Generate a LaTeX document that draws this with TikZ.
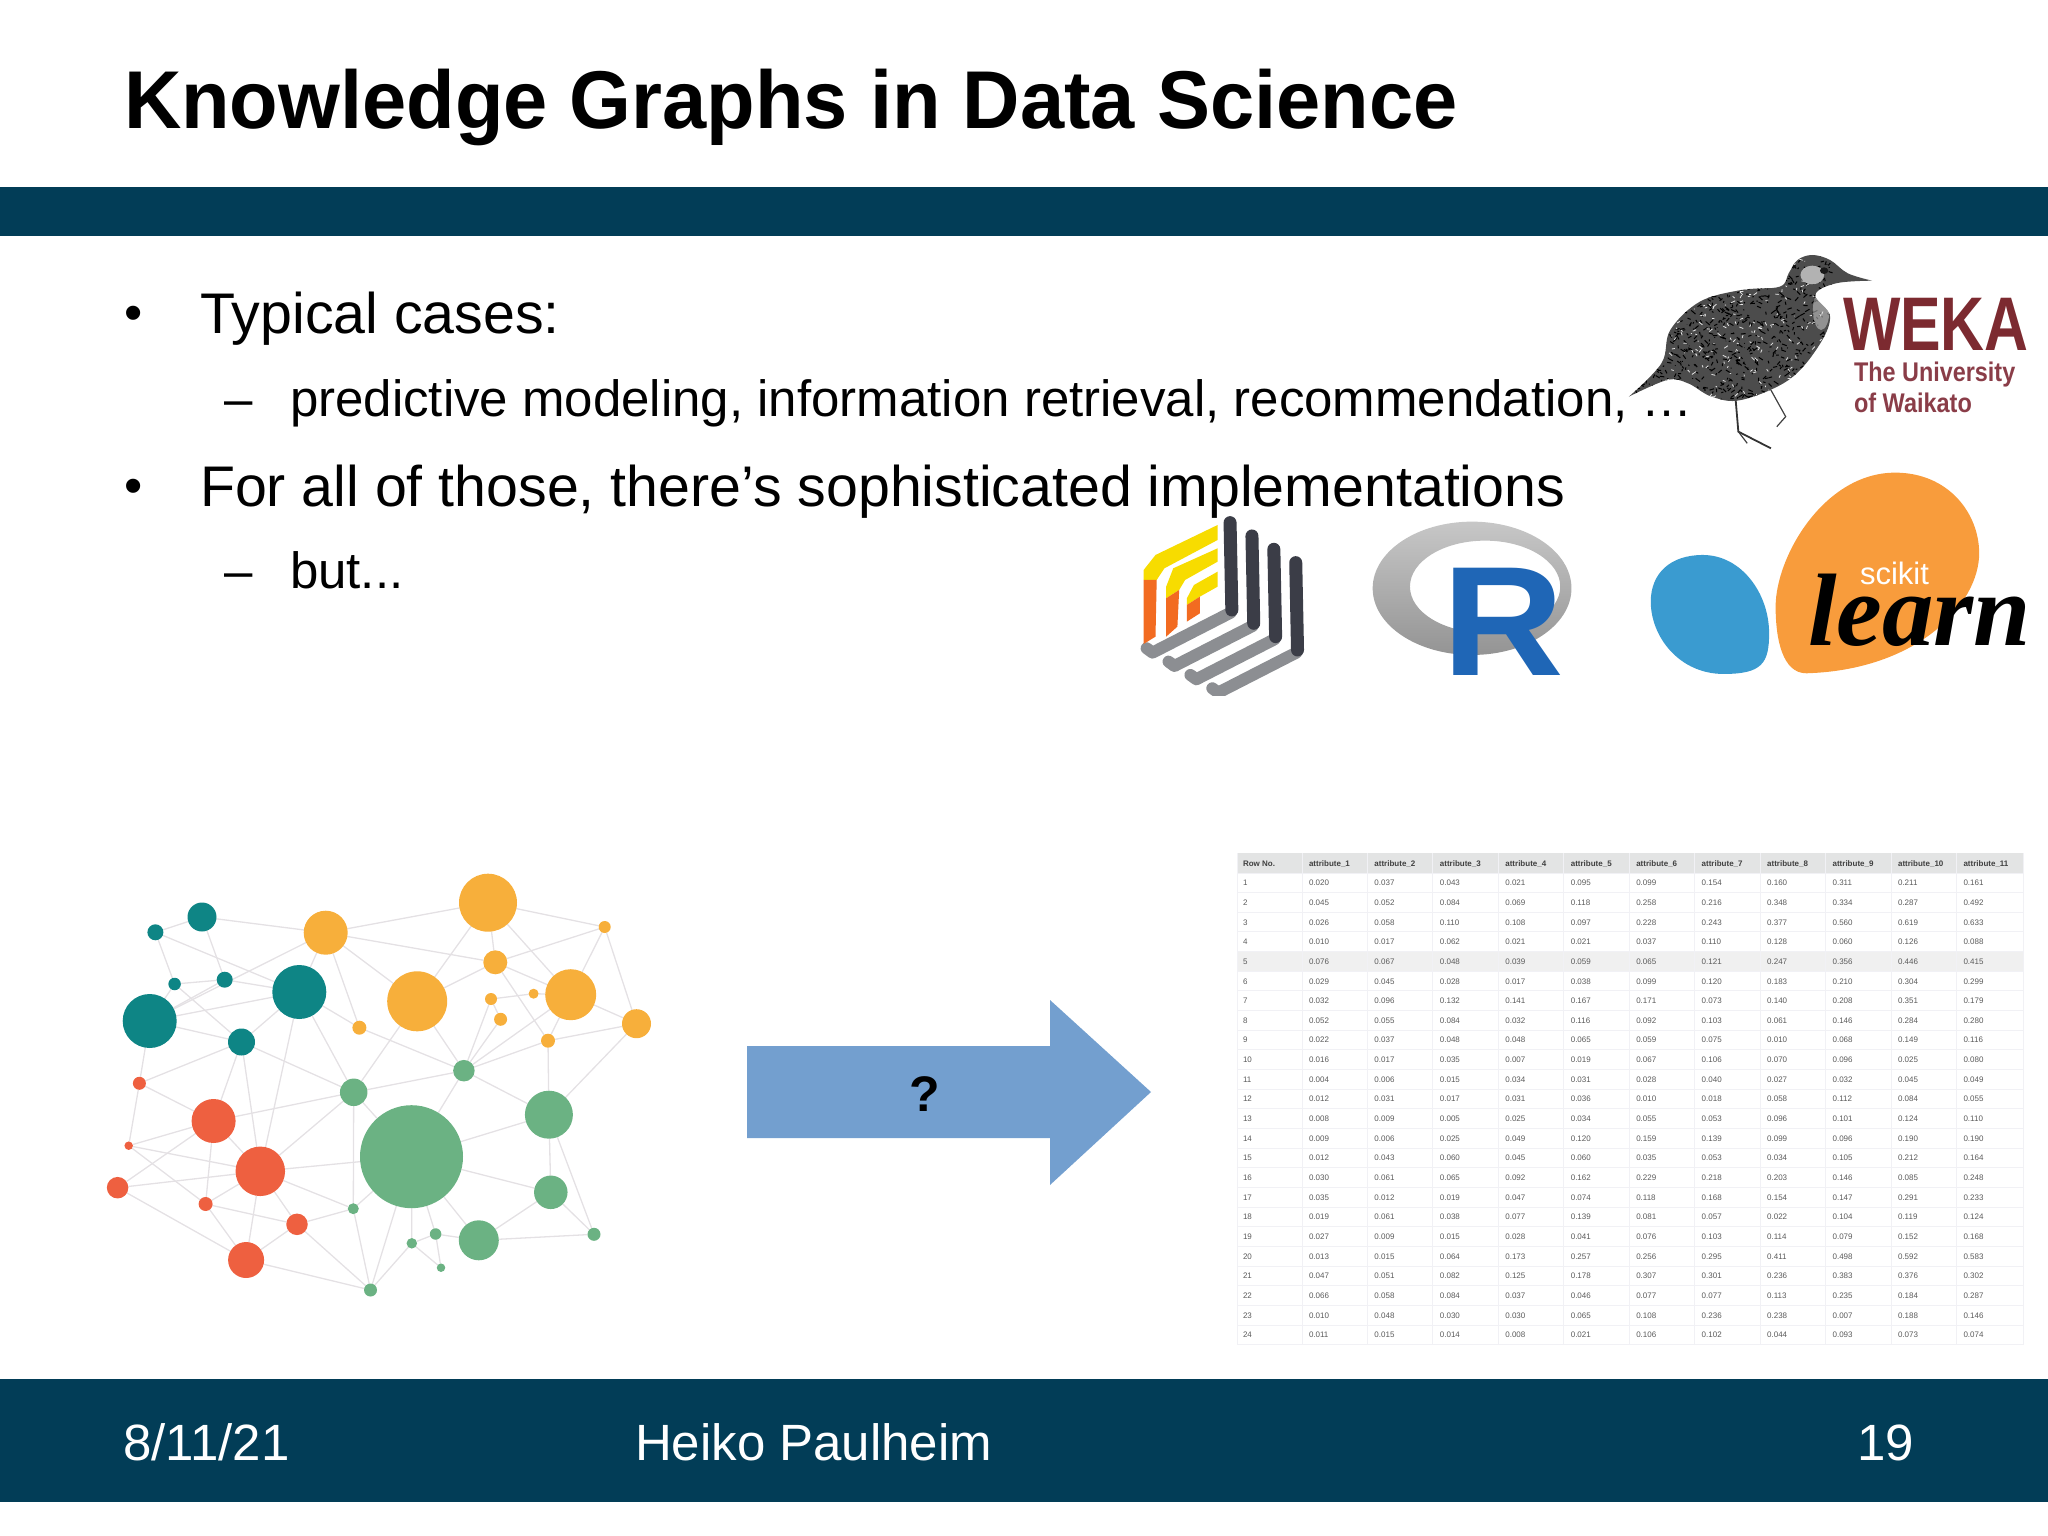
\documentclass[tikz,border=0pt]{standalone}
\usepackage{fontspec}
\usetikzlibrary{backgrounds}
\setmainfont{Liberation Sans}
\newfontfamily\learnfont{Liberation Serif}
\newcommand\pxfont[1]{\fontsize{#1}{#1}\selectfont}
\definecolor{band}{HTML}{023D57}
\definecolor{tealc}{HTML}{0E8585}
\definecolor{orangec}{HTML}{F7AF3B}
\definecolor{greenc}{HTML}{6BB283}
\definecolor{redc}{HTML}{EE6040}
\definecolor{edgec}{HTML}{E4E1E4}
\definecolor{arrowc}{HTML}{739FCF}
\definecolor{wekac}{HTML}{7C2A30}
\definecolor{wekad}{HTML}{8A3D48}
\definecolor{hdr}{HTML}{E3E4E4}
\definecolor{gridc}{HTML}{F1F1F5}
\definecolor{celltxt}{HTML}{5A5A5A}
\definecolor{logoy}{HTML}{F7DC00}
\definecolor{logoo}{HTML}{F26B21}
\definecolor{logod}{HTML}{3B3D47}
\definecolor{logog}{HTML}{8C8E92}
\definecolor{rblue}{HTML}{1F66B6}
\definecolor{skblue}{HTML}{3A9BD0}
\definecolor{skorange}{HTML}{F89C3C}
\tikzset{
  txt/.style={anchor=base west,inner sep=0,outer sep=0},
  titletxt/.style={txt,font=\bfseries\pxfont{82},xscale=0.969},
  lvla/.style={txt,font=\pxfont{57.3}},
  lvlb/.style={txt,font=\pxfont{51}},
  bullettxt/.style={txt,font=\pxfont{52}},
  foottxt/.style={txt,font=\pxfont{51},text=white},
  gnode/.style={circle,inner sep=0,outer sep=0,minimum size=#1},
  tl/.style={gnode=#1,fill=tealc},
  og/.style={gnode=#1,fill=orangec},
  gr/.style={gnode=#1,fill=greenc},
  rd/.style={gnode=#1,fill=redc},
  link/.style={draw=edgec,line width=1.3pt},
  cell/.style={txt,font=\pxfont{8},text=celltxt},
  headcell/.style={txt,font=\bfseries\pxfont{8},text=black!75},
  gridl/.style={draw=gridc,line width=1pt},
  logo/.style={shift={(1120,240)},xscale=0.5917,yscale=0.3333},
}
\begin{document}
\begin{tikzpicture}[x=1pt,y=-1pt]
\useasboundingbox (0,0) rectangle (2048,1536);
% bands
\fill[band] (0,187) rectangle (2048,236);
\fill[band] (0,1379) rectangle (2048,1502);
% title and body
\node[titletxt] (title) at (124,128.5) {Knowledge Graphs in Data Science};
\node[bullettxt] (b1) at (124,330) {•};
\node[lvla] (t1txt) at (200,333) {Typical cases:};
\node[lvlb] (d1) at (224,416) {–};
\node[lvlb] (t2txt) at (290,416) {predictive modeling, information retrieval, recommendation, …};
\node[bullettxt] (b2) at (124,503) {•};
\node[lvla] (t3txt) at (200,506) {For all of those, there’s sophisticated implementations};
\node[lvlb] (d2) at (224,588) {–};
\node[lvlb] (t4txt) at (290,588) {but...};
\node[foottxt] (f1) at (123,1460) {8/11/21};
\node[foottxt] (f2) at (635,1460) {Heiko Paulheim};
\node[foottxt] (f3) at (1857,1460) {19};
% ---- graph
\node[tl=29pt] (t1) at (202,917) {};
\node[tl=16pt] (t2) at (155.4,932.3) {};
\node[tl=12.5pt] (t3) at (174.6,984) {};
\node[tl=16pt] (t4) at (224.7,979.7) {};
\node[tl=54pt] (t5) at (299.3,992) {};
\node[tl=54pt] (t6) at (149.7,1021) {};
\node[tl=27pt] (t7) at (241.5,1042) {};
\node[og=58pt] (o1) at (488,902.7) {};
\node[og=44pt] (o2) at (325.7,932.7) {};
\node[og=12pt] (o3) at (604.7,927) {};
\node[og=24pt] (o4) at (495.3,962.3) {};
\node[og=60pt] (o5) at (417.2,1001.3) {};
\node[og=51pt] (o6) at (570.7,994.7) {};
\node[og=12pt] (o7) at (491,999) {};
\node[og=10pt] (o8) at (533.6,993.7) {};
\node[og=13pt] (o9) at (500.6,1019.3) {};
\node[og=14pt] (o10) at (359.4,1027.7) {};
\node[og=14pt] (o11) at (548,1040.7) {};
\node[og=29pt] (o12) at (636.5,1023.7) {};
\node[gr=21.5pt] (g1) at (463.9,1070.7) {};
\node[gr=27.5pt] (g2) at (353.7,1092.3) {};
\node[gr=103pt] (g3) at (411.5,1156.7) {};
\node[gr=48pt] (g4) at (548.9,1114.7) {};
\node[gr=33.5pt] (g5) at (550.8,1192.3) {};
\node[gr=40pt] (g6) at (478.8,1240.3) {};
\node[gr=11pt] (g7) at (353.3,1208.7) {};
\node[gr=10.5pt] (g8) at (411.8,1243.3) {};
\node[gr=11.5pt] (g9) at (435.6,1234) {};
\node[gr=8.5pt] (g10) at (441,1267.7) {};
\node[gr=13pt] (g11) at (594,1234.3) {};
\node[gr=13pt] (g12) at (370.5,1290) {};
\node[rd=13pt] (r1) at (139.4,1083.3) {};
\node[rd=44pt] (r2) at (213.6,1121) {};
\node[rd=8.5pt] (r3) at (128.7,1145.7) {};
\node[rd=49.5pt] (r4) at (260.3,1171.3) {};
\node[rd=21.5pt] (r5) at (117.6,1187.7) {};
\node[rd=14pt] (r6) at (205.6,1204) {};
\node[rd=21.5pt] (r7) at (297,1224.3) {};
\node[rd=36pt] (r8) at (246.1,1260) {};
\begin{scope}[on background layer]
\foreach \a/\b in {t1/t2,t1/o2,t1/t4,t2/t3,t2/t5,t3/t4,t3/t6,t3/t7,t4/t5,t4/t6,t6/t5,t6/t7,t6/r1,t5/t7,t5/o2,t5/o10,t5/g2,t5/r4,t7/r1,t7/r2,t7/r4,t7/g2,o2/t6,
  o2/o1,o2/o4,o2/o5,o2/o10,o1/o3,o1/o4,o1/o5,o1/o6,o3/o4,o3/o6,o3/o12,o4/o5,o4/o6,o4/o11,o5/g1,o5/g2,o6/o8,o7/o8,o6/o12,o6/o11,o6/g1,o7/g1,o9/g1,o11/g1,o11/o12,o11/g4,o12/g4,o10/g1,o7/o9,
  g1/g2,g1/g3,g1/g4,g2/r2,g2/g3,g2/g7,g2/r4,g3/g4,g3/g5,g3/g6,g3/g7,g3/g12,g3/g8,g3/g9,g3/r4,g4/g5,g4/g11,g5/g6,g5/g11,g6/g11,g6/g9,g8/g9,g8/g10,g9/g10,g8/g12,g7/g12,
  r7/g7,r4/g7,r7/g12,r8/g12,r1/r2,r1/r3,r2/r3,r2/r4,r2/r5,r2/r6,r3/r4,r3/r6,r4/r5,r4/r6,r4/r7,r4/r8,r5/r8,r6/r7,r6/r8,r7/r8}
  \draw[link] (\a) -- (\b);
\end{scope}
% ---- arrow
\fill[arrowc] (747,1046) -- (1050,1046) -- (1050,1000) -- (1151,1092) -- (1050,1185) -- (1050,1138) -- (747,1138) -- cycle;
\node[font=\bfseries\pxfont{50},inner sep=0] (q) at (925,1094) {?};
% ---- table
\fill[hdr] (1237,853) rectangle (2023,873);
\fill[black!6] (1237,951.3) rectangle (2023,971);
\foreach \k in {0,...,24} \draw[gridl] (1237,873+19.66*\k) -- (2023,873+19.66*\k);
\foreach \k in {0,...,10} \draw[gridl] (1302+65.45*\k,853) -- (1302+65.45*\k,1345);
\draw[gridl] (1237,853) -- (1237,1345);
\draw[gridl] (2023,853) -- (2023,1345);
\node[headcell] (hrow) at (1243,866) {Row No.};
\foreach \c in {1,...,11} \node[headcell] (h\c) at (1309+65.45*\c-65.45,866) {attribute\_\c};
\foreach \vals [count=\r] in {
{020,037,043,021,095,099,154,160,311,211,161},
{045,052,084,069,118,258,216,348,334,287,492},
{026,058,110,108,097,228,243,377,560,619,633},
{010,017,062,021,021,037,110,128,060,126,088},
{076,067,048,039,059,065,121,247,356,446,415},
{029,045,028,017,038,099,120,183,210,304,299},
{032,096,132,141,167,171,073,140,208,351,179},
{052,055,084,032,116,092,103,061,146,284,280},
{022,037,048,048,065,059,075,010,068,149,116},
{016,017,035,007,019,067,106,070,096,025,080},
{004,006,015,034,031,028,040,027,032,045,049},
{012,031,017,031,036,010,018,058,112,084,055},
{008,009,005,025,034,055,053,096,101,124,110},
{009,006,025,049,120,159,139,099,096,190,190},
{012,043,060,045,060,035,053,034,105,212,164},
{030,061,065,092,162,229,218,203,146,085,248},
{035,012,019,047,074,118,168,154,147,291,233},
{019,061,038,077,139,081,057,022,104,119,124},
{027,009,015,028,041,076,103,114,079,152,168},
{013,015,064,173,257,256,295,411,498,592,583},
{047,051,082,125,178,307,301,236,383,376,302},
{066,058,084,037,046,077,077,113,235,184,287},
{010,048,030,030,065,108,236,238,007,188,146},
{011,015,014,008,021,106,102,044,093,073,074}}
{
  \node[cell] (rn\r) at (1243,873+19.66*\r-19.66+12.7) {\r};
  \foreach \v [count=\c] in \vals
    \node[cell] (c\r-\c) at (1309+65.45*\c-65.45,873+19.66*\r-19.66+12.7) {0.\v};
}
% ---- WEKA bird
\begin{scope}[logo]
  \draw[black!80,line width=1.8pt] (1040,470) -- (1045,575) -- (1100,625);
  \draw[black!75,line width=1.2pt] (1045,575) -- (1060,610) (1100,450) -- (1125,530) -- (1110,560);
  \begin{scope}
    \clip plot[smooth,tension=0.6] coordinates {(1271,122) (1230,100) (1200,60) (1170,45) (1145,60) (1130,100) (1115,140) (1050,150) (980,185) (930,270) (915,370) (860,470)} -- plot[smooth,tension=0.6] coordinates {(860,470) (925,420) (960,430) (1000,470) (1050,480) (1130,420) (1180,320) (1200,230) (1175,165) (1210,130) (1271,122)} -- cycle;
    \fill[black!70] (840,30) rectangle (1280,500);
    \pgfmathsetseed{7}
    \foreach \i in {1,...,900}{
      \pgfmathsetmacro\px{860+rnd*350}
      \pgfmathsetmacro\py{40+rnd*450}
      \pgfmathsetmacro\dx{rnd*16-8}
      \pgfmathsetmacro\dy{rnd*22-11}
      \draw[black,line width=1pt] (\px,\py) -- ++(\dx,\dy);
    }
    \foreach \i in {1,...,260}{
      \pgfmathsetmacro\px{900+rnd*300}
      \pgfmathsetmacro\py{40+rnd*430}
      \pgfmathsetmacro\dx{rnd*14-7}
      \pgfmathsetmacro\dy{rnd*18-9}
      \draw[black!10,line width=0.8pt] (\px,\py) -- ++(\dx,\dy);
    }
    \fill[black!30] (1170,105) ellipse (20 and 28);
    \fill[black!90] (1190,92) ellipse (7 and 10);
    \fill[black!15,opacity=0.5] (1185,210) ellipse (14 and 60);
  \end{scope}
\end{scope}
\node[txt,font=\bfseries\pxfont{76},text=wekac,xscale=0.80] (weka) at (1843,350) {WEKA};
\node[txt,font=\bfseries\pxfont{27},text=wekad,xscale=0.867] (wk2) at (1854,381) {The University};
\node[txt,font=\bfseries\pxfont{27},text=wekad,xscale=0.87] (wk3) at (1854,412) {of Waikato};
% ---- stacked logo
\begin{scope}[logo]
  \clip (0,800) rectangle (400,1368);
  \foreach \i in {3,2,1,0}{
    \begin{scope}[shift={(37*\i,40*\i)}]
      \fill[white] (185,840) -- (190,1115) -- (55,1240) -- (40,1215) -- (40,1000) -- cycle;
      \draw[logog,line width=12pt,line join=round,line cap=round] (187,1118) -- (55,1238) -- (45,1225);
      \draw[logod,line width=13pt,line cap=round] (186,848) -- (189,1110);
    \end{scope}
  }
  \fill[logoy] (165,855) -- (165,900) -- (75,985) -- (62,1020) -- (40,1020) -- (40,990) -- (60,945) -- cycle;
  \fill[logoo] (40,1020) -- (62,1020) -- (60,1190) -- (40,1212) -- cycle;
  \fill[logoy] (165,925) -- (165,965) -- (110,1020) -- (100,1050) -- (78,1075) -- (78,1040) -- (90,985) -- cycle;
  \fill[logoo] (78,1075) -- (100,1050) -- (97,1160) -- (78,1190) -- cycle;
  \fill[logoy] (165,995) -- (165,1040) -- (135,1070) -- (113,1095) -- (113,1075) -- (125,1035) -- cycle;
  \fill[logoo] (113,1095) -- (135,1070) -- (135,1120) -- (113,1145) -- cycle;
\end{scope}
% ---- R logo
\begin{scope}[logo]
  \shade[top color=black!22,bottom color=black!42,even odd rule] (595,1045) ellipse (168 and 200) (617,1040) ellipse (127 and 138);
\end{scope}
\node[txt,font=\bfseries\pxfont{156},text=rblue,xscale=1.08] (rlogo) at (1442,675) {R};
% ---- scikit logo
\begin{scope}[logo]
  \fill[skblue] (985,945) .. controls (1050,945) and (1097,1060) .. (1097,1180) .. controls (1097,1270) and (1085,1302) .. (1020,1302) .. controls (945,1302) and (897,1190) .. (897,1085) .. controls (897,1000) and (930,945) .. (985,945) -- cycle;
  \fill[skorange] (1310,698) .. controls (1400,698) and (1452,820) .. (1452,940) .. controls (1452,1090) and (1350,1290) .. (1160,1300) .. controls (1120,1300) and (1108,1200) .. (1108,1100) .. controls (1108,950) and (1190,698) .. (1310,698) -- cycle;
\end{scope}
\node[txt,font=\pxfont{31},text=white] (skit) at (1860,584) {scikit};
\node[txt,font=\learnfont\bfseries\itshape\pxfont{103}] (learn) at (1808,645) {learn};
\end{tikzpicture}
\end{document}
